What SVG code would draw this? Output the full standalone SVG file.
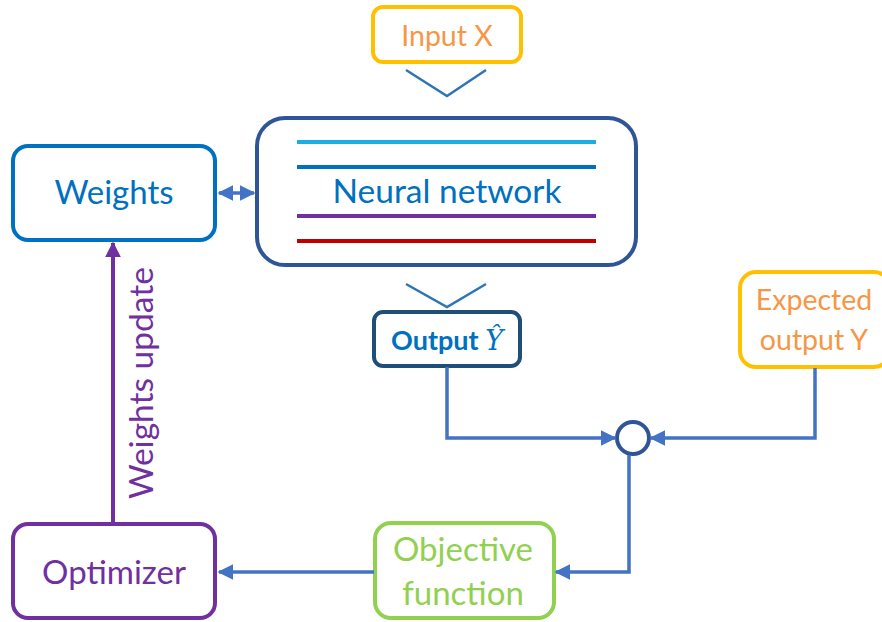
<svg xmlns="http://www.w3.org/2000/svg" width="882" height="622" viewBox="0 0 882 622">
  <style>
    .box { fill: #ffffff; stroke-width: 4; }
    .lbl { font-family: Lato, "Open Sans", sans-serif; text-anchor: middle; }
    .conn { fill: none; stroke: #4472C4; stroke-width: 3.5; }
    .chev { fill: none; stroke: #2E75B6; stroke-width: 2.5; }
    .layer { stroke-width: 4; }
  </style>
  <defs>
    <marker id="arrow" viewBox="0 0 10 10" refX="9" refY="5" markerWidth="4.5" markerHeight="4.5" orient="auto-start-reverse" markerUnits="strokeWidth">
      <path d="M0,0 L10,5 L0,10 Z" fill="#4472C4"/>
    </marker>
    <marker id="arrowPurple" viewBox="0 0 10 10" refX="9" refY="5" markerWidth="4" markerHeight="4" orient="auto" markerUnits="strokeWidth">
      <path d="M0,0 L10,5 L0,10 Z" fill="#7030A0"/>
    </marker>
  </defs>

  <g id="input-x">
    <rect class="box" x="373" y="7" width="148" height="55" rx="10" stroke="#FFC000"/>
    <text class="lbl" x="447" y="46" font-size="28.5" fill="#F79646">Input X</text>
  </g>

  <g id="neural-network">
    <rect class="box" x="257" y="118" width="379" height="147" rx="28" stroke="#2F5597"/>
    <line class="layer" x1="297" y1="142" x2="596" y2="142" stroke="#1CADE4"/>
    <line class="layer" x1="297" y1="167" x2="596" y2="167" stroke="#0070C0"/>
    <text class="lbl" x="447" y="203" font-size="33.5" fill="#0070C0">Neural network</text>
    <line class="layer" x1="297" y1="216" x2="596" y2="216" stroke="#7030A0"/>
    <line class="layer" x1="297" y1="241" x2="596" y2="241" stroke="#C00000"/>
  </g>

  <g id="weights">
    <rect class="box" x="13" y="146" width="202" height="94" rx="15" stroke="#0070C0"/>
    <text class="lbl" x="114" y="204" font-size="33" fill="#0070C0">Weights</text>
  </g>

  <g id="output">
    <rect class="box" x="374" y="312" width="146" height="54" rx="9" stroke="#1F4E79"/>
    <text class="lbl" x="447" y="350" font-size="27" fill="#0070C0"><tspan font-weight="bold">Output </tspan><tspan font-family="'DejaVu Serif', serif" font-style="italic" font-size="27">Ŷ</tspan></text>
  </g>

  <g id="expected-output">
    <rect class="box" x="740" y="272" width="150" height="95" rx="16" stroke="#FFC000"/>
    <text class="lbl" x="814" y="310" font-size="28.5" fill="#F79646">Expected</text>
    <text class="lbl" x="814" y="350" font-size="28.5" fill="#F79646">output Y</text>
  </g>

  <g id="sum">
    <circle cx="633" cy="438" r="16" fill="#ffffff" stroke="#2F5597" stroke-width="4"/>
  </g>

  <g id="objective-function">
    <rect class="box" x="375" y="523" width="179" height="95" rx="16" stroke="#92D050"/>
    <text class="lbl" x="463" y="561" font-size="33" fill="#92D050">Objective</text>
    <text class="lbl" x="463" y="605" font-size="33" fill="#92D050">function</text>
  </g>

  <g id="optimizer">
    <rect class="box" x="13" y="524" width="202" height="94" rx="15" stroke="#7030A0"/>
    <text class="lbl" x="114" y="584" font-size="33" fill="#7030A0">Optimizer</text>
  </g>

  <g id="connectors">
    <polyline class="chev" points="406,70 447,96 486,70"/>
    <polyline class="chev" points="406,284 447,307 486,284"/>
    <line class="conn" x1="219" y1="193" x2="254" y2="193" marker-start="url(#arrow)" marker-end="url(#arrow)" stroke-width="3.5"/>
    <polyline class="conn" points="447,367 447,438 615,438" marker-end="url(#arrow)"/>
    <polyline class="conn" points="815,368 815,438 651,438" marker-end="url(#arrow)"/>
    <polyline class="conn" points="629,455 629,572 556,572" marker-end="url(#arrow)"/>
    <line class="conn" x1="374" y1="572" x2="219" y2="572" marker-end="url(#arrow)"/>
    <line x1="113" y1="522" x2="113" y2="243" stroke="#7030A0" stroke-width="4" marker-end="url(#arrowPurple)"/>
    <text class="lbl" transform="translate(153,383) rotate(-90)" font-size="33.5" fill="#7030A0">Weights update</text>
  </g>
</svg>
